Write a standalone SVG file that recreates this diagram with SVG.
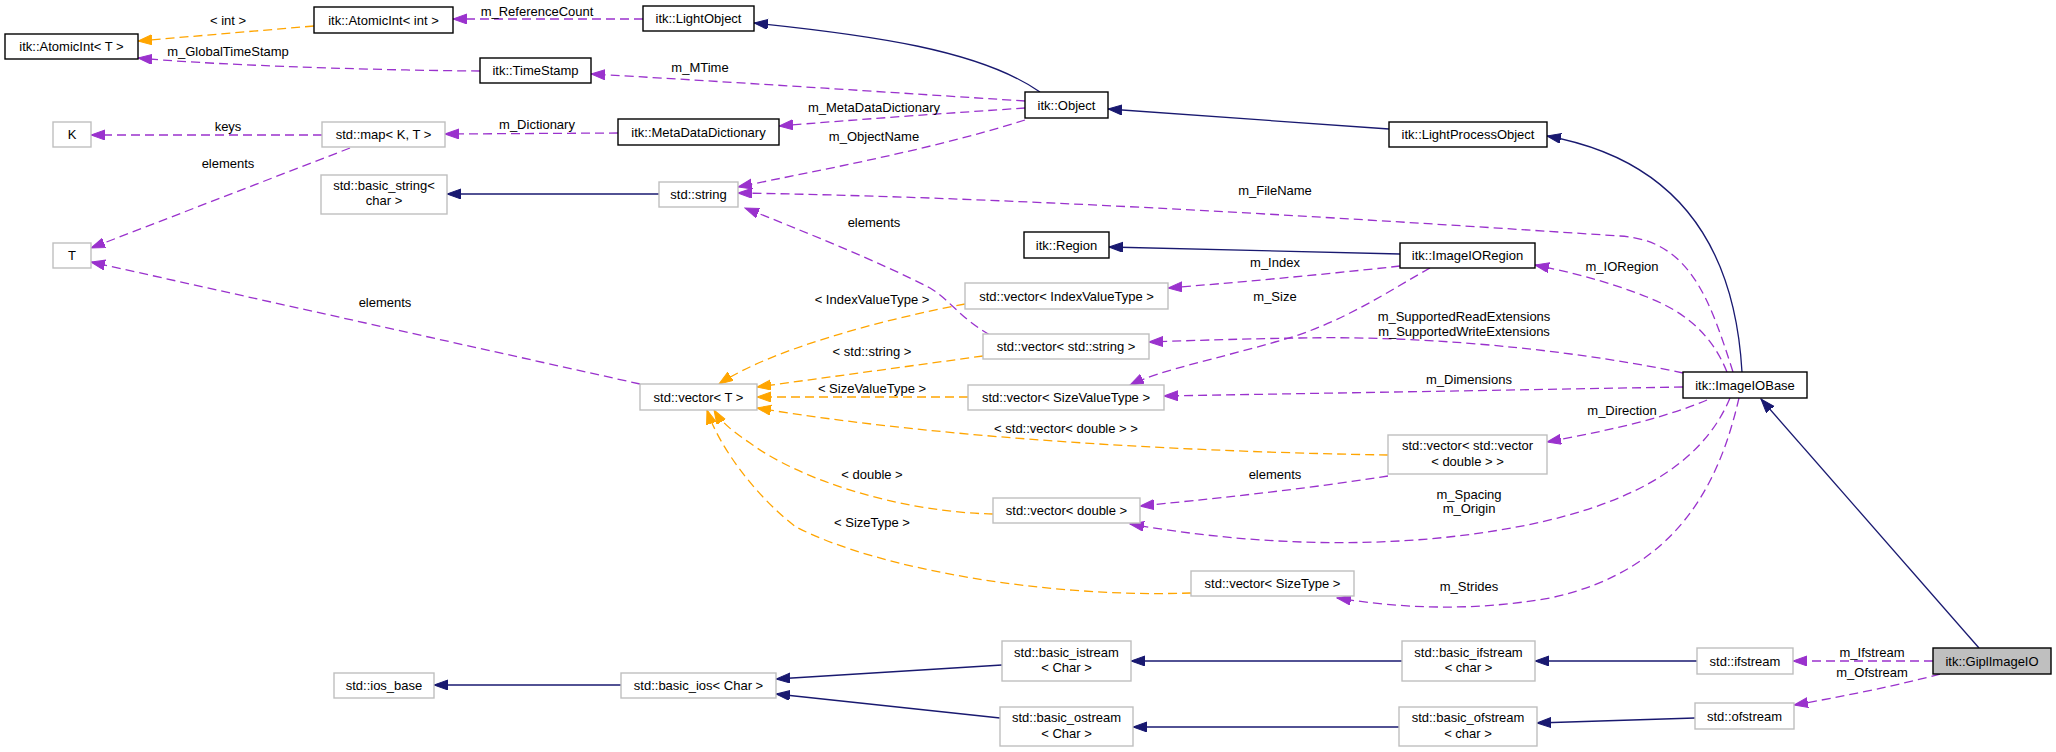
<svg xmlns="http://www.w3.org/2000/svg" width="2056" height="752" viewBox="0 0 2056 752">
<style>
text{font-family:"Liberation Sans",Arial,sans-serif;font-size:13px;fill:#000;text-anchor:middle}
.doc{fill:#fff;stroke:#000;stroke-width:1.4}
.und{fill:#fff;stroke:#bfbfbf;stroke-width:1.4}
.cur{fill:#bfbfbf;stroke:#000;stroke-width:1.4}
.inh{fill:none;stroke:#191970;stroke-width:1.3}
.use{fill:none;stroke:#9a32cd;stroke-width:1.3;stroke-dasharray:9,5}
.tpl{fill:none;stroke:#ffa500;stroke-width:1.3;stroke-dasharray:9,5}
.inh{marker-end:url(#aN)}
.use{marker-end:url(#aP)}
.tpl{marker-end:url(#aO)}
</style>
<defs>
<marker id="aN" markerUnits="userSpaceOnUse" markerWidth="15" markerHeight="11" refX="14" refY="5" orient="auto" viewBox="0 0 15 11"><path d="M0,0 L14,5 L0,10 z" fill="#191970" stroke="#191970" stroke-width="1"/></marker>
<marker id="aP" markerUnits="userSpaceOnUse" markerWidth="15" markerHeight="11" refX="14" refY="5" orient="auto" viewBox="0 0 15 11"><path d="M0,0 L14,5 L0,10 z" fill="#9a32cd" stroke="#9a32cd" stroke-width="1"/></marker>
<marker id="aO" markerUnits="userSpaceOnUse" markerWidth="15" markerHeight="11" refX="14" refY="5" orient="auto" viewBox="0 0 15 11"><path d="M0,0 L14,5 L0,10 z" fill="#ffa500" stroke="#ffa500" stroke-width="1"/></marker>
</defs>
<rect width="2056" height="752" fill="#fff"/>
<g id="connectors">
<path class="tpl" d="M314,26 L138,41"/>
<text x="228" y="25">&lt; int &gt;</text>
<path class="use" d="M643,19 L453,19"/>
<text x="537" y="16">m_ReferenceCount</text>
<path class="use" d="M480,71 C350,70 200,64 138,58"/>
<text x="228" y="56">m_GlobalTimeStamp</text>
<path class="use" d="M1025,101 C900,93 700,80 591,74"/>
<text x="700" y="72">m_MTime</text>
<path class="inh" d="M1040,92 C980,50 870,35 754,23"/>
<path class="use" d="M1025,108 C950,113 850,120 779,126"/>
<text x="874" y="112">m_MetaDataDictionary</text>
<path class="use" d="M618,133 L445,134"/>
<text x="537" y="129">m_Dictionary</text>
<path class="use" d="M322,135 L91,135"/>
<text x="228" y="131">keys</text>
<path class="use" d="M350,148 L91,248"/>
<text x="228" y="168">elements</text>
<path class="use" d="M640,384 L91,262"/>
<text x="385" y="307">elements</text>
<path class="use" d="M1025,120 C930,150 820,170 738,187"/>
<text x="874" y="141">m_ObjectName</text>
<path class="inh" d="M659,194 L447,194"/>
<path class="inh" d="M1389,129 L1108,109"/>
<path class="inh" d="M1742,372 C1735,250 1680,160 1547,136"/>
<path class="use" d="M1733,372 C1710,300 1690,240 1620,236 C1300,215 1000,197 738,193"/>
<text x="1275" y="195">m_FileName</text>
<path class="use" d="M1727,372 C1710,330 1680,310 1647,297 C1610,282 1570,272 1535,265"/>
<text x="1622" y="271">m_IORegion</text>
<path class="inh" d="M1400,254 L1109,247"/>
<path class="use" d="M1400,266 C1320,275 1230,283 1168,288"/>
<text x="1275" y="267">m_Index</text>
<path class="use" d="M1430,268 C1390,290 1340,325 1275,342 C1220,358 1160,370 1130,385"/>
<text x="1275" y="301">m_Size</text>
<path class="use" d="M1683,373 C1600,355 1450,335 1300,338 C1230,339 1180,341 1149,342"/>
<text x="1464" y="321">m_SupportedReadExtensions</text>
<text x="1464" y="336">m_SupportedWriteExtensions</text>
<path class="use" d="M1683,387 L1164,396"/>
<text x="1469" y="384">m_Dimensions</text>
<path class="use" d="M1707,400 C1660,420 1600,432 1547,442"/>
<text x="1622" y="415">m_Direction</text>
<path class="use" d="M1388,476 C1300,490 1200,500 1140,506"/>
<text x="1275" y="479">elements</text>
<path class="use" d="M1730,398 C1700,470 1620,510 1500,530 C1380,550 1250,545 1130,524"/>
<text x="1469" y="499">m_Spacing</text>
<text x="1469" y="513">m_Origin</text>
<path class="use" d="M1739,398 C1720,480 1680,570 1550,598 C1470,612 1400,608 1337,598"/>
<text x="1469" y="591">m_Strides</text>
<path class="tpl" d="M965,304 C880,320 770,350 719,384"/>
<text x="872" y="304">&lt; IndexValueType &gt;</text>
<path class="tpl" d="M983,356 L757,387"/>
<text x="872" y="356">&lt; std::string &gt;</text>
<path class="use" d="M990,335 C960,318 950,300 930,288 C880,262 800,230 745,208"/>
<text x="874" y="227">elements</text>
<path class="tpl" d="M968,397 L757,397"/>
<text x="872" y="393">&lt; SizeValueType &gt;</text>
<path class="tpl" d="M1388,455 C1200,452 950,440 757,408"/>
<text x="1066" y="433">&lt; std::vector&lt; double &gt; &gt;</text>
<path class="tpl" d="M993,514 C900,512 800,480 750,443 C730,430 720,420 714,410"/>
<text x="872" y="479">&lt; double &gt;</text>
<path class="tpl" d="M1191,593 C1050,598 880,570 796,527 C760,500 720,450 707,410"/>
<text x="872" y="527">&lt; SizeType &gt;</text>
<path class="inh" d="M621,685 L434,685"/>
<path class="inh" d="M1002,665 L776,679"/>
<path class="inh" d="M1000,718 L776,694"/>
<path class="inh" d="M1402,661 L1131,661"/>
<path class="inh" d="M1399,727 L1133,727"/>
<path class="inh" d="M1697,661 L1535,661"/>
<path class="inh" d="M1695,718 L1537,723"/>
<path class="use" d="M1933,661 L1793,661"/>
<text x="1872" y="657">m_Ifstream</text>
<path class="use" d="M1940,674 C1900,685 1840,697 1794,705"/>
<text x="1872" y="677">m_Ofstream</text>
<path class="inh" d="M1979,648 L1761,399"/>
</g>
<g id="n_atomicT"><rect class="doc" x="5" y="34" width="133" height="25"/><text x="71.5" y="51">itk::AtomicInt&lt; T &gt;</text></g>
<g id="n_atomicInt"><rect class="doc" x="314" y="7" width="139" height="26"/><text x="383.5" y="24.5">itk::AtomicInt&lt; int &gt;</text></g>
<g id="n_lightobject"><rect class="doc" x="643" y="6" width="111" height="25"/><text x="698.5" y="23">itk::LightObject</text></g>
<g id="n_timestamp"><rect class="doc" x="480" y="58" width="111" height="25"/><text x="535.5" y="75">itk::TimeStamp</text></g>
<g id="n_object"><rect class="doc" x="1025" y="92" width="83" height="26"/><text x="1066.5" y="109.5">itk::Object</text></g>
<g id="n_mdd"><rect class="doc" x="618" y="119" width="161" height="26"/><text x="698.5" y="136.5">itk::MetaDataDictionary</text></g>
<g id="n_K"><rect class="und" x="53" y="122" width="38" height="25"/><text x="72" y="139">K</text></g>
<g id="n_map"><rect class="und" x="322" y="122" width="123" height="25"/><text x="383.5" y="139">std::map&lt; K, T &gt;</text></g>
<g id="n_lpo"><rect class="doc" x="1389" y="122" width="158" height="25"/><text x="1468" y="139">itk::LightProcessObject</text></g>
<g id="n_basicstring"><rect class="und" x="321" y="175" width="126" height="39"/><text x="384" y="190">std::basic_string&lt;</text><text x="384" y="205">char &gt;</text></g>
<g id="n_string"><rect class="und" x="659" y="182" width="79" height="25"/><text x="698.5" y="199">std::string</text></g>
<g id="n_region"><rect class="doc" x="1024" y="232" width="85" height="26"/><text x="1066.5" y="249.5">itk::Region</text></g>
<g id="n_ioregion"><rect class="doc" x="1400" y="243" width="135" height="25"/><text x="1467.5" y="260">itk::ImageIORegion</text></g>
<g id="n_T"><rect class="und" x="53" y="243" width="38" height="25"/><text x="72" y="260">T</text></g>
<g id="n_vIVT"><rect class="und" x="965" y="283" width="203" height="26"/><text x="1066.5" y="300.5">std::vector&lt; IndexValueType &gt;</text></g>
<g id="n_vS"><rect class="und" x="983" y="334" width="166" height="25"/><text x="1066" y="351">std::vector&lt; std::string &gt;</text></g>
<g id="n_ioBase"><rect class="doc" x="1683" y="372" width="124" height="26"/><text x="1745" y="389.5">itk::ImageIOBase</text></g>
<g id="n_vT"><rect class="und" x="640" y="384" width="117" height="26"/><text x="698.5" y="401.5">std::vector&lt; T &gt;</text></g>
<g id="n_vSVT"><rect class="und" x="968" y="385" width="196" height="25"/><text x="1066" y="402">std::vector&lt; SizeValueType &gt;</text></g>
<g id="n_vvd"><rect class="und" x="1388" y="435" width="159" height="39"/><text x="1467.5" y="450">std::vector&lt; std::vector</text><text x="1467.5" y="466">&lt; double &gt; &gt;</text></g>
<g id="n_vd"><rect class="und" x="993" y="498" width="147" height="25"/><text x="1066.5" y="515">std::vector&lt; double &gt;</text></g>
<g id="n_vST"><rect class="und" x="1191" y="571" width="163" height="25"/><text x="1272.5" y="588">std::vector&lt; SizeType &gt;</text></g>
<g id="n_iosbase"><rect class="und" x="334" y="673" width="100" height="25"/><text x="384" y="690">std::ios_base</text></g>
<g id="n_basicios"><rect class="und" x="621" y="673" width="155" height="25"/><text x="698.5" y="690">std::basic_ios&lt; Char &gt;</text></g>
<g id="n_istream"><rect class="und" x="1002" y="641" width="129" height="40"/><text x="1066.5" y="657">std::basic_istream</text><text x="1066.5" y="672">&lt; Char &gt;</text></g>
<g id="n_ostream"><rect class="und" x="1000" y="707" width="133" height="39"/><text x="1066.5" y="722">std::basic_ostream</text><text x="1066.5" y="738">&lt; Char &gt;</text></g>
<g id="n_bifstream"><rect class="und" x="1402" y="641" width="133" height="40"/><text x="1468.5" y="657">std::basic_ifstream</text><text x="1468.5" y="672">&lt; char &gt;</text></g>
<g id="n_bofstream"><rect class="und" x="1399" y="707" width="138" height="39"/><text x="1468" y="722">std::basic_ofstream</text><text x="1468" y="738">&lt; char &gt;</text></g>
<g id="n_ifstream"><rect class="und" x="1697" y="648" width="96" height="26"/><text x="1745" y="665.5">std::ifstream</text></g>
<g id="n_ofstream"><rect class="und" x="1695" y="703" width="99" height="26"/><text x="1744.5" y="720.5">std::ofstream</text></g>
<g id="n_gipl"><rect class="cur" x="1933" y="648" width="118" height="26"/><text x="1992" y="665.5">itk::GiplImageIO</text></g>
</svg>
